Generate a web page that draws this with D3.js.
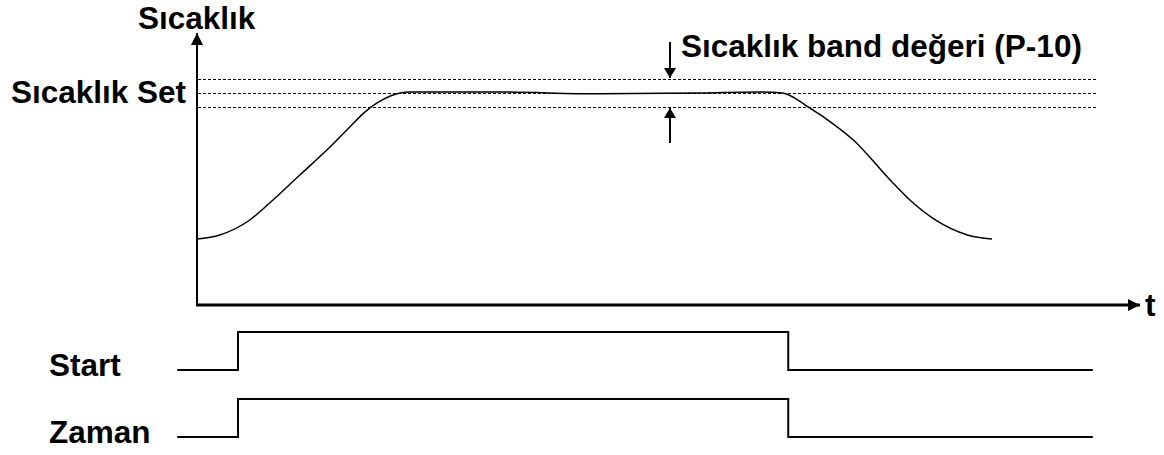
<!DOCTYPE html>
<html>
<head>
<meta charset="utf-8">
<title></title>
<style>
    body { margin: 0; background: #fff; }
    text { font-family: "Liberation Sans", Arial, sans-serif; font-weight: bold; fill: #000; }
</style>
</head>
<body>
<svg id="chart" width="1164" height="455"></svg>
<script src="https://cdn.jsdelivr.net/npm/d3@7/dist/d3.min.js"></script>
<script>
    // time in arbitrary units, temperature in % of set value
    var tempTime = [0, 2.4, 5.6, 7.7, 10.9, 14.1, 16.2, 17.8, 19.1, 20.5, 22.6, 31.8, 42.7, 53.3, 59.7, 62.1, 63.4, 64.8, 66.6, 69.6, 73.5, 75.6, 78.3, 81.7, 84.3];
    var tempValue = [31.1, 33.0, 40.1, 48.1, 61.3, 74.5, 84.0, 91.0, 95.3, 98.6, 100.5, 100.5, 99.6, 100, 100.5, 100, 97.6, 93.4, 88.2, 77.8, 59, 49.5, 40.1, 33.0, 31.1];
    var setValue = 100;
    var bandValue = 6.6;
    var bandEnd = 95.4;

    var signalNames = ["Start", "Zaman"];
    var signalTime = [-2.1, 4.35, 62.7, 95];
    var signalState = [0, 1, 0, 0];

    var svg = d3.select("#chart");
    var fs = 31.5;

    var x = d3.scaleLinear().domain([0, 100]).range([197, 1140]);
    var y = d3.scaleLinear().domain([0, 100]).range([305, 93]);
    var row = d3.scalePoint().domain(signalNames).range([370, 437]);
    var sigHeight = 38;

    // arrow heads
    var defs = svg.append("defs");
    defs.append("marker").attr("id", "head")
        .attr("viewBox", "0 0 12 12").attr("refX", 12).attr("refY", 6)
        .attr("markerWidth", 12).attr("markerHeight", 12)
        .attr("markerUnits", "userSpaceOnUse").attr("orient", "auto")
        .append("path").attr("d", "M0,0L12,6L0,12Z").attr("fill", "#000");
    defs.append("marker").attr("id", "small")
        .attr("viewBox", "0 0 10 12").attr("refX", 10).attr("refY", 6)
        .attr("markerWidth", 10).attr("markerHeight", 12)
        .attr("markerUnits", "userSpaceOnUse").attr("orient", "auto")
        .append("path").attr("d", "M0,0L10,6L0,12Z").attr("fill", "#000");

    // band lines
    svg.append("g").selectAll("line")
        .data([setValue + bandValue, setValue, setValue - bandValue])
        .join("line")
        .attr("x1", x(0) + 1).attr("x2", x(bandEnd))
        .attr("y1", function (d) { return Math.round(y(d)) + 0.5; })
        .attr("y2", function (d) { return Math.round(y(d)) + 0.5; })
        .attr("stroke", "#000").attr("stroke-width", 1)
        .attr("stroke-dasharray", "3,2");

    // axes
    svg.append("line")
        .attr("x1", x(0)).attr("y1", y(0) + 1)
        .attr("x2", x(0)).attr("y2", 33)
        .attr("stroke", "#000").attr("stroke-width", 2)
        .attr("marker-end", "url(#head)");
    svg.append("line")
        .attr("x1", x(0) - 1).attr("y1", y(0))
        .attr("x2", x(100)).attr("y2", y(0))
        .attr("stroke", "#000").attr("stroke-width", 3)
        .attr("marker-end", "url(#head)");

    // temperature curve
    var pts = tempTime.map(function (t, i) { return [t, tempValue[i]]; });
    svg.append("path")
        .datum(pts)
        .attr("fill", "none").attr("stroke", "#000").attr("stroke-width", 1.5)
        .attr("d", d3.line()
            .x(function (d) { return x(d[0]); })
            .y(function (d) { return y(d[1]); })
            .curve(d3.curveMonotoneX));

    // band arrows
    var bx = 670;
    svg.append("line")
        .attr("x1", bx).attr("x2", bx)
        .attr("y1", 42).attr("y2", y(setValue + bandValue) - 1)
        .attr("stroke", "#000").attr("stroke-width", 2)
        .attr("marker-end", "url(#small)");
    svg.append("line")
        .attr("x1", bx).attr("x2", bx)
        .attr("y1", 143).attr("y2", y(setValue - bandValue) + 1)
        .attr("stroke", "#000").attr("stroke-width", 2)
        .attr("marker-end", "url(#small)");

    // signals
    var sig = svg.append("g").selectAll("g")
        .data(signalNames)
        .join("g");
    sig.append("path")
        .attr("fill", "none").attr("stroke", "#000").attr("stroke-width", 2)
        .attr("d", function (name) {
            var sy = d3.scaleLinear().domain([0, 1])
                .range([row(name), row(name) - sigHeight]);
            return d3.line()
                .x(function (d) { return x(d[0]); })
                .y(function (d) { return sy(d[1]); })
                .curve(d3.curveStepAfter)(signalTime.map(function (t, i) { return [t, signalState[i]]; }));
        });
    sig.append("text")
        .attr("x", 49)
        .attr("y", function (name) { return row(name) + 6; })
        .attr("font-size", fs)
        .text(function (d) { return d; });

    // labels
    svg.append("text").attr("x", 138).attr("y", 29).attr("font-size", fs).text("Sıcaklık");
    svg.append("text").attr("x", 186).attr("y", 103).attr("font-size", fs)
        .attr("text-anchor", "end").text("Sıcaklık Set");
    svg.append("text").attr("x", 681).attr("y", 57).attr("font-size", fs)
        .text("Sıcaklık band değeri (P-10)");
    svg.append("text").attr("x", 1145).attr("y", 316).attr("font-size", fs).text("t");
</script>
</body>
</html>
